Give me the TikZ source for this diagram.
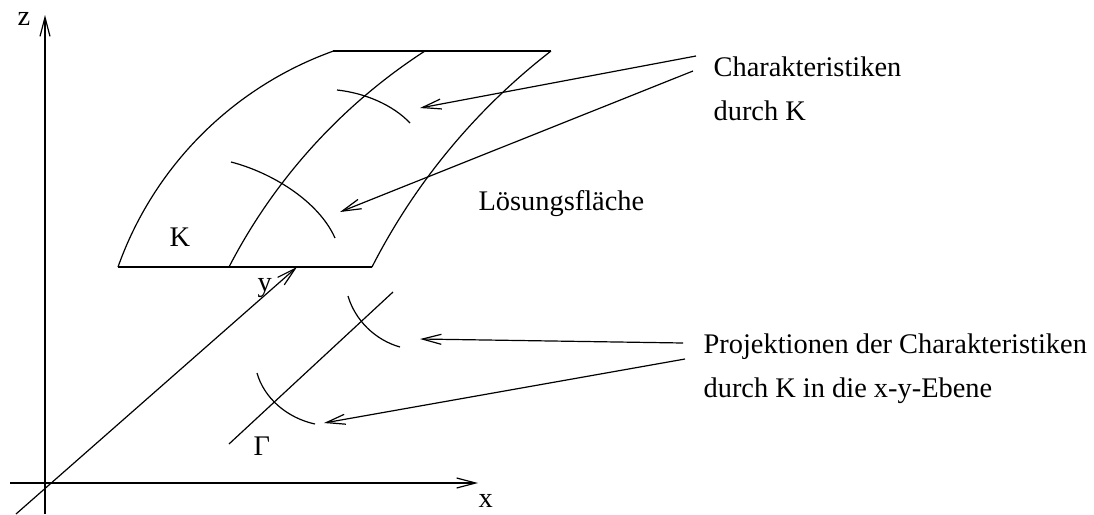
\documentclass[tikz,border=0pt]{standalone}
\usepackage{fontspec}
\setmainfont{Liberation Serif}
\usetikzlibrary{arrows.meta}
\begin{document}
\begin{tikzpicture}[x=1pt,y=1pt,line width=1.2pt,
  arr/.style={-{Straight Barb[length=19pt,width=10pt]}},
  lbl/.style={inner sep=0pt,anchor=base west,font=\fontsize{28.4}{34}\selectfont}]
\useasboundingbox (0,0) rectangle (1094,-514);

% coordinate axes
\coordinate (zb) at (45,-514);  \coordinate (zt) at (45,-15);
\coordinate (xb) at (10,-483);  \coordinate (xt) at (478,-483);
\coordinate (yb) at (16,-514);  \coordinate (yt) at (297,-267);
\draw[arr] (zb) -- (zt);
\draw[arr] (xb) -- (xt);
\draw[arr] (yb) -- (yt);
\node[lbl] (zl) at (17,-25) {z};
\node[lbl] (xl) at (478,-507) {x};
\node[lbl] (yl) at (257,-291) {y};

% solution surface: straight edges and curved edges
\coordinate (s1) at (118,-267); \coordinate (s2) at (229,-267); \coordinate (s3) at (372,-267);
\coordinate (t1) at (333,-51);  \coordinate (t3) at (551,-51);
\draw (s1) -- (s3);
\draw (t1) -- (t3);
\draw (s1) arc[start angle=160.44,end angle=109.71,radius=356];
\draw (s2) arc[start angle=152.66,end angle=122.9,radius=567.8];
\draw (s3) arc[start angle=152.95,end angle=127.76,radius=643];

% characteristics on the surface
\draw (337,-90) .. controls (365,-93) and (393,-105) .. (410,-123);
\draw (231,-162) .. controls (270,-172) and (318,-200) .. (335,-238);

% initial curve Gamma and projected characteristics
\coordinate (g1) at (229,-444); \coordinate (g2) at (393,-292);
\draw (g1) -- (g2);
\draw (348,-296) .. controls (355,-320) and (375,-340) .. (400,-347);
\draw (257,-373) .. controls (264,-398) and (287,-418) .. (315,-424);

\node[lbl] (K) at (169,-246) {K};
\node[lbl] (G) at (253,-455) {Γ};
\node[lbl] (loes) at (478,-210) {Lösungsfläche};

% labels on the right and their pointers
\node[lbl] (ch1) at (713,-76) {Charakteristiken};
\node[lbl] (ch2) at (713,-120) {durch K};
\node[lbl] (pr1) at (703,-353) {Projektionen der Charakteristiken};
\node[lbl] (pr2) at (703,-397) {durch K in die x-y-Ebene};

\coordinate (a1s) at (696,-56);  \coordinate (a1e) at (420,-108);
\coordinate (a2s) at (693,-71);  \coordinate (a2e) at (340,-212);
\coordinate (a3s) at (683,-343); \coordinate (a3e) at (420,-339);
\coordinate (a4s) at (685,-359); \coordinate (a4e) at (324,-423);
\draw[arr] (a1s) -- (a1e);
\draw[arr] (a2s) -- (a2e);
\draw[arr] (a3s) -- (a3e);
\draw[arr] (a4s) -- (a4e);
\end{tikzpicture}
\end{document}
